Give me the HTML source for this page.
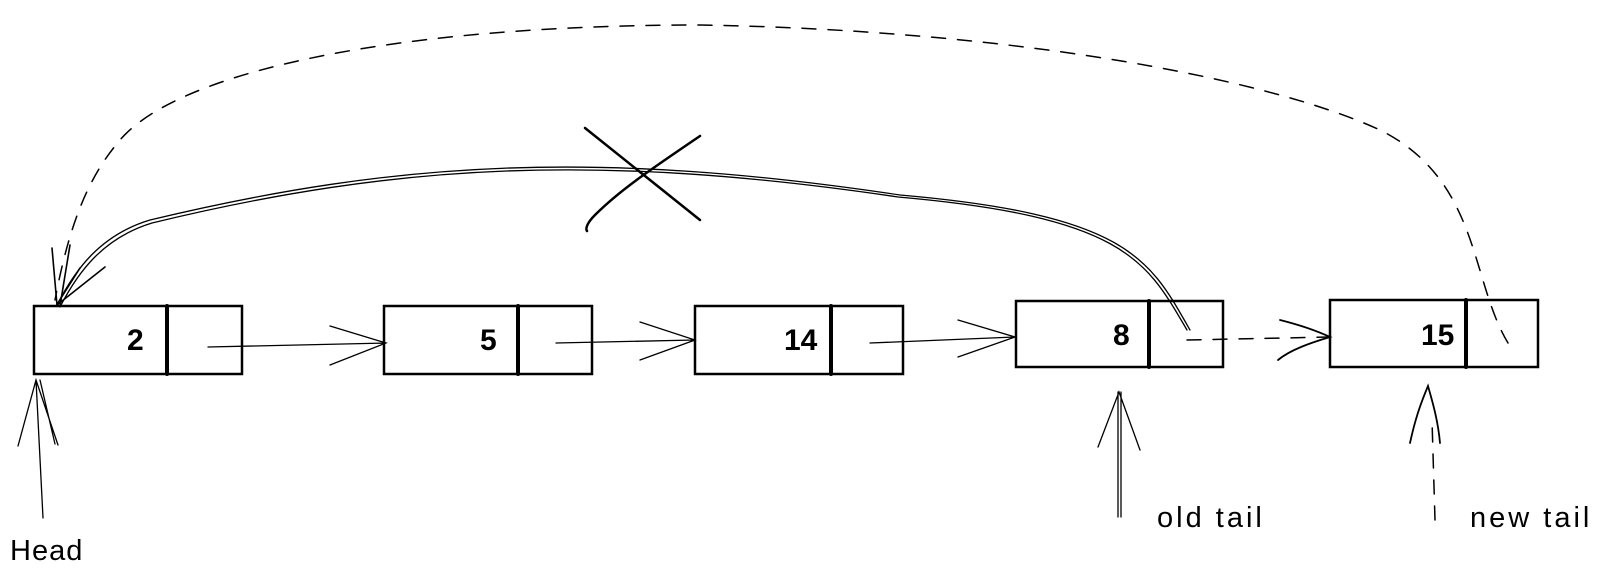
<!DOCTYPE html>
<html><head><meta charset="utf-8"><style>
html,body{margin:0;padding:0;background:#fff;}
svg{display:block}
text{font-family:"Liberation Sans",sans-serif;fill:#000}
</style></head><body>
<svg width="1604" height="578" viewBox="0 0 1604 578" xmlns="http://www.w3.org/2000/svg">
<g fill="none" stroke="#000" stroke-width="2.5" stroke-linecap="round">
<rect x="34" y="306" width="208" height="68"/>
<line x1="167" y1="306" x2="167" y2="374" stroke-width="4"/>
<rect x="384" y="306" width="208" height="68"/>
<line x1="518" y1="306" x2="518" y2="374" stroke-width="4"/>
<rect x="695" y="306" width="208" height="68"/>
<line x1="831" y1="306" x2="831" y2="374" stroke-width="4"/>
<rect x="1016" y="301" width="207" height="66"/>
<line x1="1149" y1="301" x2="1149" y2="367" stroke-width="4"/>
<rect x="1330" y="300" width="208" height="67"/>
<line x1="1466" y1="300" x2="1466" y2="367" stroke-width="4"/>
</g>
<g fill="none" stroke="#000" stroke-width="1.3" stroke-linecap="round">
<path d="M208 347 L386 343 M330 326 L386 343 L330 365"/>
<path d="M556 343 L695 340 M640 322 L695 340 L640 360"/>
<path d="M870 343 L1015 337 M958 320 L1015 337 L958 357"/>
<path d="M1190 330 C1150 260 1130 215 900 195 C600 150 400 160 150 220 C100 235 75 270 57 305"/>
<path d="M1187 330 C1147 262 1127 217 898 197 C600 153 400 163 152 223 C103 238 78 272 60 307"/>
<path d="M57 305 L52 248 M57 305 L105 267 M60 306 L70 245 M56 306 L80 268" stroke-width="1.6"/>
<path d="M585 128 L700 220 M700 136 C650 170 620 190 595 215 C588 222 585 228 587 231" stroke-width="2.5"/>
<path d="M43 518 L36 380 M18 446 L36 380 L58 445 M40 380 L55 444" stroke-width="1.3"/>
<path d="M1118 517 L1118 392 M1121 517 L1121 392 M1098 447 L1119 392 L1140 450" />
</g>
<g fill="none" stroke="#000" stroke-width="1.5" stroke-dasharray="14 12" stroke-linecap="round">
<path d="M1187 340 L1330 337"/>
<path d="M1508 343 C1470 280 1480 180 1380 130 C1260 75 1000 30 700 25 C400 25 180 70 120 140 C90 175 70 220 55 300"/>
<path d="M1435 520 L1432 420"/>
</g>
<g fill="none" stroke="#000" stroke-width="1.8" stroke-linecap="round">
<path d="M1280 320 C1300 325 1315 330 1330 337 C1310 343 1290 350 1278 360"/>
<path d="M1410 443 C1415 420 1420 405 1428 386 C1432 400 1438 420 1440 443"/>
</g>
<g font-size="30" font-weight="bold">
<text x="127" y="350">2</text>
<text x="480" y="350">5</text>
<text x="784" y="350">14</text>
<text x="1113" y="345">8</text>
<text x="1421" y="345">15</text>
</g>
<g font-size="29">
<text x="10" y="560" letter-spacing="1">Head</text>
<text x="1157" y="527" letter-spacing="3">old tail</text>
<text x="1470" y="527" letter-spacing="3">new tail</text>
</g>
</svg>
</body></html>
